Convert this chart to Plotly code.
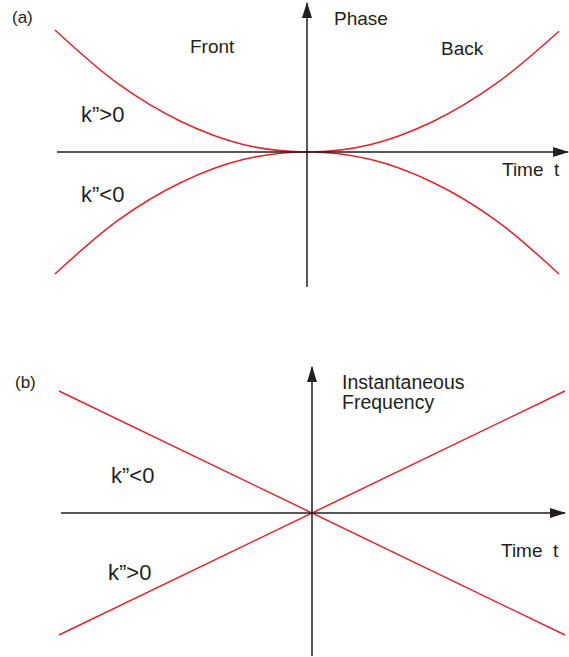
import plotly.graph_objects as go

# panel (a): phase vs time
time_a = [-1.0, -0.75, -0.5, -0.25, 0.0, 0.25, 0.5, 0.75, 1.0]
phase_pos = [1.0, 0.56, 0.25, 0.06, 0.0, 0.06, 0.25, 0.56, 0.99]   # k">0
phase_neg = [-1.0, -0.56, -0.25, -0.06, 0.0, -0.06, -0.25, -0.56, -1.0]   # k"<0

# panel (b): instantaneous frequency vs time
time_b = [-1.0, 0.0, 1.0]
freq_neg = [1.0, 0.0, -1.0]   # k"<0
freq_pos = [-1.0, 0.0, 1.0]   # k">0

W, H = 569, 657
RED = "#e8202a"
INK = "#231f20"
FONT = "Liberation Sans, Arial, sans-serif"


def px(x):
    return x / W


def py(y):
    return 1 - y / H


fig = go.Figure()

for ys in (phase_pos, phase_neg):
    fig.add_trace(go.Scatter(x=time_a, y=ys, mode="lines", line=dict(color=RED, width=1.5, shape="spline"),
                             xaxis="x", yaxis="y", showlegend=False, hoverinfo="skip"))
for ys in (freq_neg, freq_pos):
    fig.add_trace(go.Scatter(x=time_b, y=ys, mode="lines", line=dict(color=RED, width=1.5),
                             xaxis="x2", yaxis="y2", showlegend=False, hoverinfo="skip"))


def axes_cross(fig, xr, yr, left, right, bottom, top):
    fig.add_shape(type="line", xref=xr, yref=yr, x0=left, x1=right, y0=0, y1=0,
                  line=dict(color=INK, width=1.5))
    fig.add_shape(type="line", xref=xr, yref=yr, x0=0, x1=0, y0=bottom, y1=top,
                  line=dict(color=INK, width=1.5))
    fig.add_shape(type="path", xref=xr, yref=yr, xsizemode="pixel", ysizemode="pixel",
                  xanchor=right, yanchor=0, path="M1,0 L-15,5 L-15,-5 Z",
                  fillcolor=INK, line=dict(width=0))
    fig.add_shape(type="path", xref=xr, yref=yr, xsizemode="pixel", ysizemode="pixel",
                  xanchor=0, yanchor=top, path="M0,1 L-5,-15 L5,-15 Z",
                  fillcolor=INK, line=dict(width=0))


axes_cross(fig, "x", "y", -0.992, 1.036, -1.107, 1.221)
axes_cross(fig, "x2", "y2", -0.992, 1.0, -1.172, 1.197)


def label(text, x, y, size=19, xanchor="center"):
    fig.add_annotation(text=text, x=px(x), y=py(y), xref="paper", yref="paper",
                       xanchor=xanchor, yanchor="middle", align="left", showarrow=False,
                       font=dict(family=FONT, size=size, color=INK))


label("(a)", 22, 17, size=17)
label("Front", 212, 47)
label("Back", 462, 48)
label("Phase", 361, 18)
label("k\u201d>0", 102, 114, size=22)
label("k\u201d<0", 102, 195, size=22)
label("Time\u00a0\u00a0t", 531, 169)

label("(b)", 25, 382, size=17)
# two separate lines: tighter spacing than plotly's <br>
label("Instantaneous", 340, 382, size=19.5, xanchor="left")
label("Frequency", 340, 402, size=19.5, xanchor="left")
label("k\u201d<0", 132, 475, size=22)
label("k\u201d>0", 129, 572, size=22)
label("Time\u00a0\u00a0t", 530, 550)

fig.update_layout(
    width=W, height=H,
    margin=dict(l=0, r=0, t=0, b=0),
    paper_bgcolor="white", plot_bgcolor="white",
    xaxis=dict(domain=[0, 1], range=[-307 / 252, 262 / 252], visible=False, anchor="y"),
    yaxis=dict(domain=[py(330), 1], range=[(152 - 330) / 122, 152 / 122], visible=False, anchor="x"),
    xaxis2=dict(domain=[0, 1], range=[-312 / 253, 257 / 253], visible=False, anchor="y2"),
    yaxis2=dict(domain=[0, py(330)], range=[(513 - 657) / 122, (513 - 330) / 122], visible=False, anchor="x2"),
)

# drop the default body margin so the figure sits at the page origin
fig.write_html("out.html", post_script="document.body.style.margin='0';",
               config={"displayModeBar": False})
